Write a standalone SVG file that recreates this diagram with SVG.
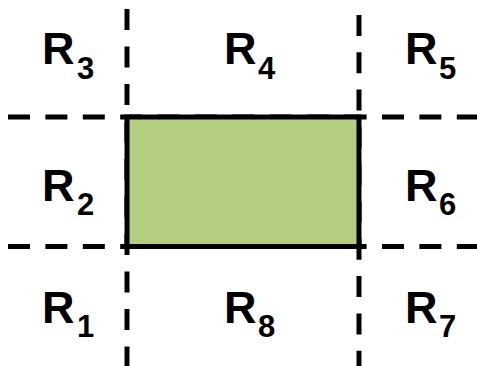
<svg xmlns="http://www.w3.org/2000/svg" width="477" height="366" viewBox="0 0 477 366">
<style>
.d{stroke:#000;stroke-width:5;fill:none}
.h{stroke-dasharray:22 15.4}
.r{font-family:"Liberation Sans",Arial,sans-serif;font-weight:bold;font-size:45px;fill:#000}
.s{font-family:"Liberation Sans",Arial,sans-serif;font-weight:bold;font-size:31px;fill:#000}
</style>
<rect width="477" height="366" fill="#fff"/>
<g id="connectors">
<line class="d h" x1="8" y1="117" x2="477" y2="117"/>
<line class="d h" x1="8" y1="246.5" x2="477" y2="246.5"/>
<line class="d" x1="127" y1="9" x2="127" y2="366" stroke-dasharray="21 16.5"/>
<line class="d" x1="359" y1="15" x2="359" y2="366" stroke-dasharray="21 16.3"/>
</g>
<g id="box">
<rect x="127" y="117" width="232" height="129.5" fill="#B3CE80" stroke="#000" stroke-width="5"/>
</g>
<g id="R3"><text class="r" x="42" y="64">R</text><text class="s" x="77" y="79">3</text></g>
<g id="R4"><text class="r" x="224" y="64">R</text><text class="s" x="258" y="79">4</text></g>
<g id="R5"><text class="r" x="405" y="64">R</text><text class="s" x="439" y="79">5</text></g>
<g id="R2"><text class="r" x="42" y="201">R</text><text class="s" x="77" y="215">2</text></g>
<g id="R6"><text class="r" x="405" y="201">R</text><text class="s" x="439" y="215">6</text></g>
<g id="R1"><text class="r" x="42" y="323">R</text><text class="s" x="77" y="337">1</text></g>
<g id="R8"><text class="r" x="224" y="323">R</text><text class="s" x="258" y="337">8</text></g>
<g id="R7"><text class="r" x="405" y="323">R</text><text class="s" x="439" y="337">7</text></g>
</svg>
